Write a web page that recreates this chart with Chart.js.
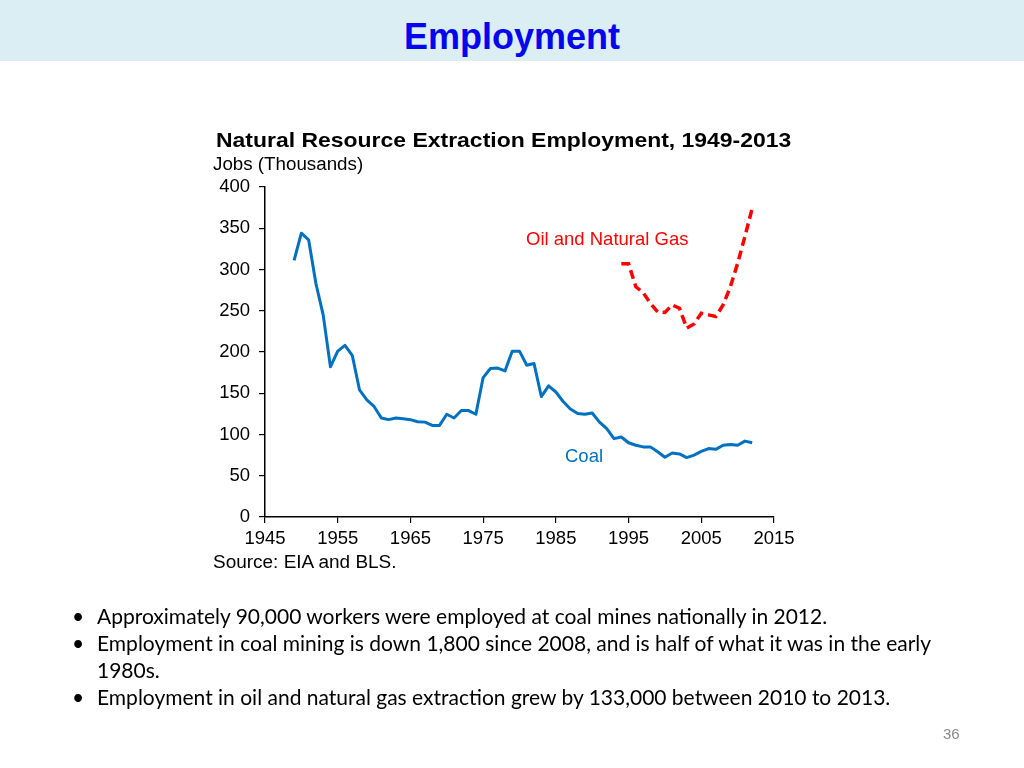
<!DOCTYPE html>
<html>
<head>
<meta charset="utf-8">
<script src="https://cdn.jsdelivr.net/npm/chart.js@4.4.1/dist/chart.umd.min.js"></script>
<style>
  body { margin: 0; width: 1024px; height: 768px; background: #fff; position: relative; overflow: hidden;
         font-family: "Liberation Sans", Arial, sans-serif; }
  #band { position: absolute; left: 0; top: 0; width: 1024px; height: 61px; background: #dbeef4; }
  #band h1 { margin: 0; position: absolute; left: 0; width: 1024px; top: 16px; text-align: center;
             font-size: 36px; font-weight: bold; color: #0505ee; line-height: 42px; }
  #chartbox { position: absolute; left: 0; top: 0; width: 1024px; height: 768px; }
  .txt { position: absolute; white-space: nowrap; line-height: 1; transform-origin: 0 50%; }
  #ctitle { left: 216px; top: 129px; font-size: 21px; font-weight: bold; color: #000; transform: scaleX(1.093); }
  #units { left: 213px; top: 155px; font-size: 18px; color: #000; transform: scaleX(1.042); }
  #source { left: 213px; top: 553px; font-size: 18px; color: #000; transform: scaleX(1.054); }
  #lblOil { left: 526px; top: 230px; font-size: 18.5px; color: #ff0000; }
  #lblCoal { left: 565px; top: 447px; font-size: 18.5px; color: #0070c0; }
  #bullets { position: absolute; left: 76px; top: 602px; font-family: Lato, "Open Sans", sans-serif;
             font-size: 21px; color: #000; line-height: 27px; }
  #bullets div { position: relative; padding-left: 21px; white-space: nowrap; }
  #bullets div::before { content: "\2022"; position: absolute; left: -4px; }
  #pagenum { left: 943px; top: 726px; font-size: 15px; color: #8a8a8a; }
</style>
</head>
<body>
<div id="band"><h1>Employment</h1></div>
<div id="chartbox"><canvas id="chart" width="1024" height="768"></canvas></div>
<div class="txt" id="ctitle">Natural Resource Extraction Employment, 1949-2013</div>
<div class="txt" id="units">Jobs (Thousands)</div>
<div class="txt" id="source">Source: EIA and BLS.</div>
<div class="txt" id="lblOil">Oil and Natural Gas</div>
<div class="txt" id="lblCoal">Coal</div>
<div id="bullets">
  <div>Approximately 90,000 workers were employed at coal mines nationally in 2012.</div>
  <div>Employment in coal mining is down 1,800 since 2008, and is half of what it was in the early<br>1980s.</div>
  <div>Employment in oil and natural gas extraction grew by 133,000 between 2010 to 2013.</div>
</div>
<div class="txt" id="pagenum">36</div>

<script>
// coal mining jobs, thousands
var coalYears = [1949, 1950, 1951, 1952, 1953, 1954, 1955, 1956, 1957, 1958, 1959,
                 1960, 1961, 1962, 1963, 1964, 1965, 1966, 1967, 1968, 1969,
                 1970, 1971, 1972, 1973, 1974, 1975, 1976, 1977, 1978, 1979,
                 1980, 1981, 1982, 1983, 1984, 1985, 1986, 1987, 1988, 1989,
                 1990, 1991, 1992, 1993, 1994, 1995, 1996, 1997, 1998, 1999,
                 2000, 2001, 2002, 2003, 2004, 2005, 2006, 2007, 2008, 2009,
                 2010, 2011, 2012];
var coalJobs = [311, 344, 336, 283, 245, 182, 201, 208, 196, 154, 142,
                134, 120, 118, 120, 119, 118, 115.5, 115, 111, 111,
                124.5, 120, 129, 129, 124.5, 169, 180, 180.5, 177, 201,
                201, 184, 186, 146, 159, 151.5, 140, 131, 125.5, 124.5,
                126, 115, 107, 95, 97, 90, 87, 85, 85, 79,
                72.5, 77.5, 76.5, 72, 75, 79.5, 83, 82, 87, 88,
                87, 92, 90];
// oil and natural gas extraction jobs, thousands
var oilYears = [1994, 1995, 1996, 1997, 1998, 1999, 2000, 2001, 2002, 2003,
                2004, 2005, 2006, 2007, 2008, 2009, 2010, 2011, 2012];
var oilJobs = [307, 307, 279, 272, 259, 248.5, 248, 257, 253, 229,
               234, 247, 245, 243, 257, 279, 307.5, 340, 374];
var yTicks = [0, 50, 100, 150, 200, 250, 300, 350, 400];
var xTicks = [1945, 1955, 1965, 1975, 1985, 1995, 2005, 2015];

function pts(xs, ys) {
    var out = [];
    for (var i = 0; i < xs.length; i++) {
        out.push({x: xs[i], y: ys[i]});
    }
    return out;
}

var tickFont = {family: '"Liberation Sans", Arial, sans-serif', size: 18.5};

new Chart(document.getElementById('chart'), {
    type: 'line',
    data: {
        datasets: [{
            label: 'Coal',
            data: pts(coalYears, coalJobs),
            borderColor: '#0070c0',
            borderWidth: 3,
            pointRadius: 0,
            tension: 0,
            borderJoinStyle: 'round'
        }, {
            label: 'Oil and Natural Gas',
            data: pts(oilYears, oilJobs),
            borderColor: '#ff0000',
            borderWidth: 3.5,
            borderDash: [9, 5],
            pointRadius: 0,
            tension: 0
        }]
    },
    options: {
        responsive: false,
        animation: false,
        devicePixelRatio: 1,
        layout: {padding: {left: 205, top: 187, right: 250, bottom: 211}},
        plugins: {legend: {display: false}, tooltip: {enabled: false}, title: {display: false}},
        scales: {
            x: {
                type: 'linear',
                min: xTicks[0],
                max: xTicks[xTicks.length - 1],
                afterBuildTicks: function(s) { s.ticks = xTicks.map(function(v) { return {value: v}; }); },
                afterFit: function(s) { s.height = 40; },
                grid: {drawOnChartArea: false, drawTicks: true, tickLength: 6, color: '#000', lineWidth: 1.2},
                border: {color: '#000', width: 1.5},
                ticks: {color: '#000', font: tickFont, padding: 5, maxRotation: 0,
                        callback: function(v) { return String(v); }}
            },
            y: {
                min: yTicks[0],
                max: yTicks[yTicks.length - 1],
                afterBuildTicks: function(s) { s.ticks = yTicks.map(function(v) { return {value: v}; }); },
                afterFit: function(s) { s.width = 60; },
                grid: {drawOnChartArea: false, drawTicks: true, tickLength: 6, color: '#000', lineWidth: 1.2},
                border: {color: '#000', width: 1.5},
                ticks: {color: '#000', font: tickFont, padding: 9}
            }
        }
    }
});
</script>
</body>
</html>
